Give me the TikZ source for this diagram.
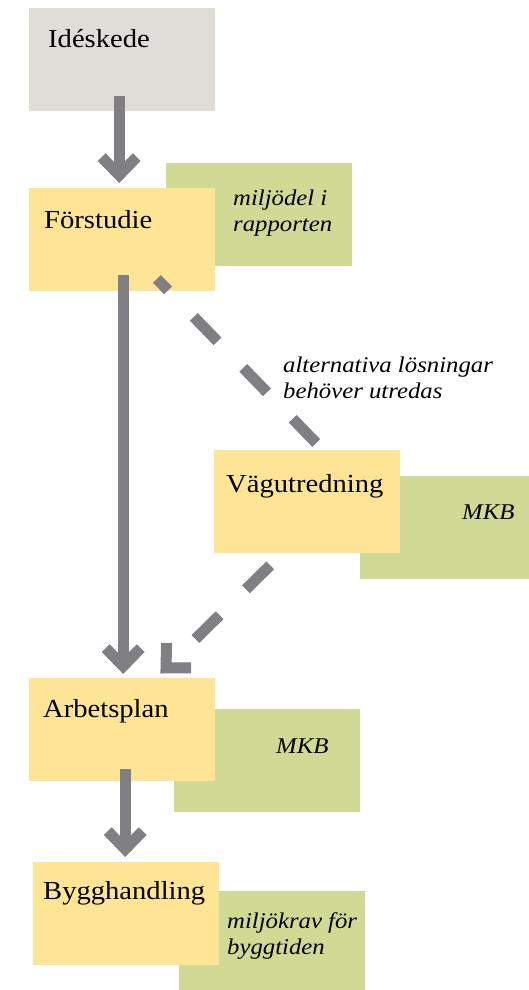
\documentclass[tikz,border=0pt]{standalone}
\usepackage{fontspec}
\setmainfont[FakeStretch=1.1]{Liberation Serif}
\usetikzlibrary{arrows.meta}
\definecolor{boxgrey}{RGB}{224,221,216}
\definecolor{boxyellow}{RGB}{253,229,149}
\definecolor{boxgreen}{RGB}{209,218,148}
\definecolor{arrgrey}{RGB}{128,128,132}
\tikzset{
  greybox/.style={fill=boxgrey, draw=none, inner sep=0pt, minimum width=186pt, minimum height=103pt, anchor=north west},
  yellowbox/.style={greybox, fill=boxyellow},
  greenbox/.style={greybox, fill=boxgreen},
  lbl/.style={anchor=base west, inner sep=0pt, font=\fontsize{26}{30}\selectfont},
  itlbl/.style={anchor=base west, inner sep=0pt, align=left, font=\fontsize{22.5}{26}\selectfont\itshape},
  arr/.style={draw=arrgrey, line width=11pt, -{Straight Barb[length=18pt,width=35pt]}},
  dasharr/.style={arr, dash pattern=on 34pt off 37pt},
}
\begin{document}
\begin{tikzpicture}[x=1pt,y=-1pt]
\useasboundingbox (0,0) rectangle (529,990);
% boxes
\node[greybox] (ide) at (29,8) {};
\node[greenbox] (fsg) at (166,163) {};
\node[yellowbox] (fs) at (29,188) {};
\node[greenbox] (vug) at (360,476) {};
\node[yellowbox] (vu) at (214,450) {};
\node[greenbox] (apg) at (174,709) {};
\node[yellowbox] (ap) at (29,678) {};
\node[greenbox, minimum height=99pt] (bhg) at (179,891) {};
\node[yellowbox] (bh) at (33,862) {};
% texts
\node[lbl] (tide) at ([xshift=19pt,yshift=-40pt]ide.north west) {Idéskede};
\node[lbl] (tfs) at ([xshift=15pt,yshift=-40pt]fs.north west) {Förstudie};
\node[lbl] (tvu) at ([xshift=12pt,yshift=-42pt]vu.north west) {Vägutredning};
\node[lbl] (tap) at ([xshift=14pt,yshift=-39pt]ap.north west) {Arbetsplan};
\node[lbl] (tbh) at ([xshift=10pt,yshift=-37pt]bh.north west) {Bygghandling};
\node[itlbl] (tfsg) at ([xshift=67pt,yshift=-68pt]fsg.north west) {miljödel i\\rapporten};
\node[itlbl] (tvug) at ([xshift=102pt,yshift=-43pt]vug.north west) {MKB};
\node[itlbl] (tapg) at ([xshift=102pt,yshift=-44pt]apg.north west) {MKB};
\node[itlbl] (tbhg) at ([xshift=48pt,yshift=-63pt]bhg.north west) {miljökrav för\\byggtiden};
\node[itlbl] (talt) at (283,398) {alternativa lösningar\\behöver utredas};
% connectors
\draw[arr] ([xshift=-3pt,yshift=15pt]ide.south) -- ([xshift=-3pt,yshift=5pt]fs.north);
\draw[arr] ([xshift=1pt,yshift=16pt]fs.south) -- ([xshift=1pt,yshift=4pt]ap.north);
\draw[arr] ([xshift=3pt,yshift=12pt]ap.south) -- ([xshift=-1pt,yshift=5pt]bh.north);
\draw[draw=arrgrey, line width=11pt, dash pattern=on 34pt off 37pt, dash phase=18pt]
  ([xshift=-58.5pt,yshift=12.5pt]fs.south east) -- ([xshift=9pt,yshift=7pt]vu.north);
\draw[dasharr] ([xshift=-37pt,yshift=-12pt]vu.south) -- ([xshift=-55pt,yshift=4.5pt]ap.north east);
\end{tikzpicture}
\end{document}
